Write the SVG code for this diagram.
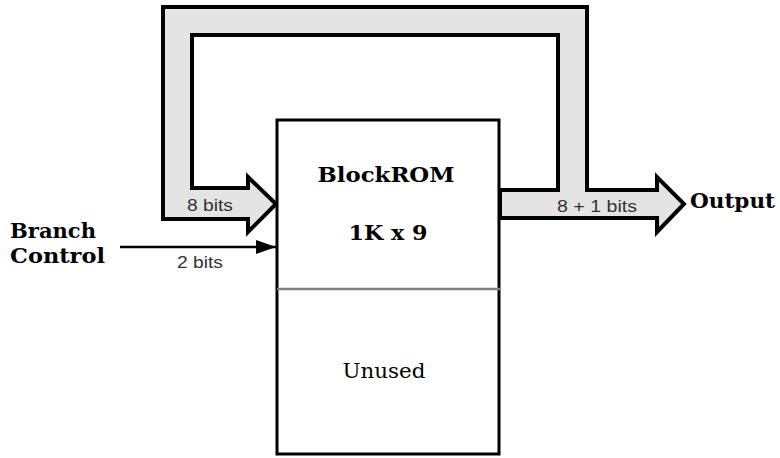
<svg xmlns="http://www.w3.org/2000/svg" width="780" height="458" viewBox="0 0 780 458">
<defs>
<style>
.lbl{font-family:"DejaVu Serif","Liberation Serif",serif;font-size:20px;fill:#000}
.b{font-weight:bold}
.small{font-family:"Liberation Sans",Arial,sans-serif;font-size:16px;fill:#333}
</style>
<marker id="ah" markerWidth="20" markerHeight="14" refX="20" refY="7" orient="auto" markerUnits="userSpaceOnUse">
<path d="M0,0 L20,7 L0,14 Z" fill="#000"/>
</marker>
</defs>
<rect width="780" height="458" fill="#fff"/>
<g id="connectors">
<path id="bus" d="M163,7 L587,7 L587,190 L657,190 L657,177 L684,204 L657,232 L657,218 L500,218 L500,190 L558,190 L558,35 L192,35 L192,188 L248,188 L248,177 L276,204 L248,232 L248,219 L163,219 Z" fill="#e4e4e4" stroke="#000" stroke-width="4" stroke-linejoin="miter"/>
<line x1="120" y1="247" x2="276" y2="247" stroke="#000" stroke-width="2.5" marker-end="url(#ah)"/>
<text class="small" x="210" y="211" text-anchor="middle" textLength="46" lengthAdjust="spacingAndGlyphs">8 bits</text>
<text class="small" x="597" y="212" text-anchor="middle" textLength="80" lengthAdjust="spacingAndGlyphs">8 + 1 bits</text>
<text class="small" x="200" y="268" text-anchor="middle" textLength="46" lengthAdjust="spacingAndGlyphs">2 bits</text>
</g>
<g id="blockrom">
<rect x="277" y="120" width="222" height="334" fill="#fff" stroke="#000" stroke-width="3"/>
<line x1="277" y1="289" x2="501" y2="289" stroke="#808080" stroke-width="2.5"/>
<text class="lbl b" x="386" y="182" text-anchor="middle" textLength="137" lengthAdjust="spacingAndGlyphs">BlockROM</text>
<text class="lbl b" x="388" y="240" text-anchor="middle" textLength="79" lengthAdjust="spacingAndGlyphs">1K x 9</text>
<text class="lbl" x="384" y="378" text-anchor="middle" textLength="83" lengthAdjust="spacingAndGlyphs">Unused</text>
</g>
<g id="branch-control">
<text class="lbl b" x="10" y="238" textLength="86" lengthAdjust="spacingAndGlyphs">Branch</text>
<text class="lbl b" x="10" y="263" textLength="95" lengthAdjust="spacingAndGlyphs">Control</text>
</g>
<g id="output">
<text class="lbl b" x="690" y="208" textLength="85" lengthAdjust="spacingAndGlyphs">Output</text>
</g>
</svg>
